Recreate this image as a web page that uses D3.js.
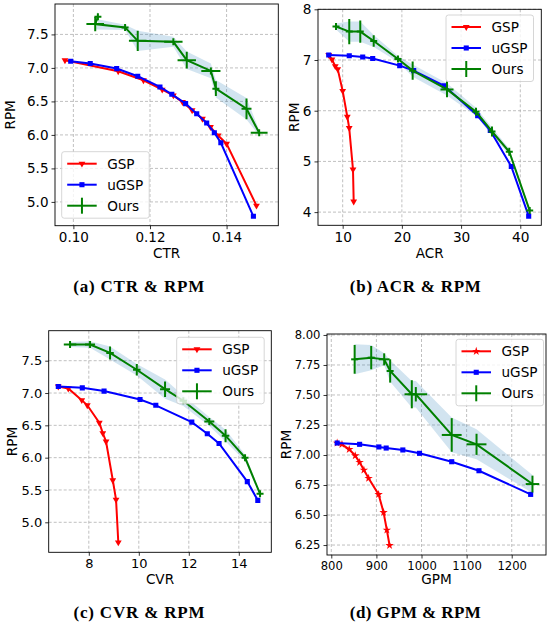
<!DOCTYPE html>
<html>
<head>
<meta charset="utf-8">
<script src="https://cdn.jsdelivr.net/npm/d3@7"></script>
<style>
  body { margin: 0; background: #fff; }
  text { font-family: "DejaVu Sans", sans-serif; }
</style>
</head>
<body>
<script>
// ---- data ----
var seriesNames = ["GSP", "uGSP", "Ours"];
var captions = ["(a) CTR & RPM", "(b) ACR & RPM", "(c) CVR & RPM", "(d) GPM & RPM"];
var xLabels = ["CTR", "ACR", "CVR", "GPM"];

// (a) CTR & RPM
var aGspX = [0.0978, 0.1117, 0.1183, 0.1232, 0.1261, 0.1285, 0.1310, 0.1337, 0.1358, 0.1378, 0.1400, 0.1478];
var aGspY = [7.115, 6.95, 6.816, 6.676, 6.59, 6.49, 6.367, 6.24, 6.117, 5.99, 5.868, 4.945];
var aUgspX = [0.0993, 0.1044, 0.1113, 0.1168, 0.1226, 0.1257, 0.1293, 0.1322, 0.1348, 0.1368, 0.1385, 0.1470];
var aUgspY = [7.10, 7.066, 6.99, 6.876, 6.716, 6.606, 6.467, 6.317, 6.177, 6.033, 5.883, 4.785];
var aOursX = [0.1064, 0.1057, 0.1135, 0.1168, 0.1261, 0.1296, 0.1359, 0.1372, 0.1452, 0.1485];
var aOursY = [7.763, 7.654, 7.605, 7.404, 7.39, 7.115, 6.955, 6.69, 6.39, 6.033];
var aOursXErr = [0.0003, 0.0023, 0.0004, 0.0023, 0.0024, 0.0024, 0.0025, 0.0008, 0.0013, 0.0022];
var aOursYErr = [0.03, 0.105, 0.03, 0.15, 0.025, 0.125, 0.04, 0.11, 0.155, 0.025];
var aOursBand = [0.08, 0.08, 0.04, 0.15, 0.075, 0.13, 0.11, 0.13, 0.16, 0.04];
var aXTicks = [0.10, 0.12, 0.14];
var aYTicks = [5.0, 5.5, 6.0, 6.5, 7.0, 7.5];

// (b) ACR & RPM
var bGspX = [7.64, 8.19, 8.75, 9.16, 10.0, 10.78, 11.1, 11.74, 11.86];
var bGspY = [7.10, 7.01, 6.88, 6.82, 6.39, 5.88, 5.66, 4.84, 4.21];
var bUgspX = [7.64, 11.11, 13.38, 15.07, 19.63, 21.99, 27.17, 32.8, 34.93, 38.48, 41.42];
var bUgspY = [7.10, 7.085, 7.06, 7.03, 6.89, 6.79, 6.49, 5.90, 5.61, 4.90, 3.92];
var bOursX = [8.87, 11.11, 12.97, 15.24, 19.34, 21.82, 27.62, 32.52, 35.22, 38.14, 41.59];
var bOursY = [7.66, 7.56, 7.56, 7.375, 7.02, 6.79, 6.42, 5.98, 5.59, 5.19, 4.03];
var bOursXErr = [0.3, 0.4, 0.4, 0.5, 0.6, 0.5, 1.1, 0.4, 0.5, 0.4, 0.3];
var bOursYErr = [0.03, 0.25, 0.22, 0.115, 0.04, 0.18, 0.155, 0.08, 0.1, 0.08, 0.05];
var bOursBand = [0.06, 0.2, 0.2, 0.12, 0.06, 0.12, 0.12, 0.08, 0.08, 0.06, 0.04];
var bXTicks = [10, 20, 30, 40];
var bYTicks = [4, 5, 6, 7, 8];

// (c) CVR & RPM
var cGspX = [6.78, 7.18, 7.72, 7.94, 8.42, 8.56, 8.69, 8.96, 9.09, 9.18];
var cGspY = [7.10, 7.07, 6.89, 6.81, 6.54, 6.38, 6.25, 5.65, 5.35, 4.69];
var cUgspX = [6.78, 7.74, 8.61, 10.05, 10.68, 12.12, 12.74, 13.21, 14.34, 14.76];
var cUgspY = [7.10, 7.08, 7.03, 6.90, 6.81, 6.55, 6.37, 6.22, 5.63, 5.34];
var cOursX = [7.25, 8.05, 8.85, 9.92, 11.05, 11.78, 12.82, 13.47, 14.25, 14.85];
var cOursY = [7.75, 7.75, 7.62, 7.36, 7.06, 6.88, 6.56, 6.34, 6.0, 5.44];
var cOursXErr = [0.25, 0.2, 0.15, 0.15, 0.2, 0.15, 0.2, 0.15, 0.12, 0.1];
var cOursYErr = [0.02, 0.02, 0.1, 0.09, 0.12, 0.03, 0.05, 0.1, 0.04, 0.05];
var cOursBand = [0.04, 0.05, 0.1, 0.09, 0.15, 0.08, 0.07, 0.09, 0.05, 0.03];
var cXTicks = [8, 10, 12, 14];
var cYTicks = [5.0, 5.5, 6.0, 6.5, 7.0, 7.5];

// (d) GPM & RPM
var dGspX = [813, 823.7, 839.8, 853.1, 862.8, 872.3, 882.7, 904.9, 915.9, 923.2, 929.2];
var dGspY = [7.10, 7.089, 7.047, 6.994, 6.939, 6.875, 6.806, 6.672, 6.522, 6.375, 6.247];
var dUgspX = [813, 862.8, 905.5, 921.7, 958.6, 995.6, 1067, 1127.4, 1242];
var dUgspY = [7.10, 7.089, 7.067, 7.058, 7.042, 7.014, 6.944, 6.869, 6.672];
var dOursX = [851.8, 888.5, 917.3, 930.5, 978.5, 987.4, 1067, 1122, 1246];
var dOursY = [7.797, 7.811, 7.797, 7.70, 7.506, 7.506, 7.167, 7.089, 6.758];
var dOursXErr = [3, 3, 12, 4, 4, 25, 22, 22, 15];
var dOursYErr = [0.12, 0.097, 0.05, 0.097, 0.117, 0.06, 0.14, 0.088, 0.07];
var dOursBand = [0.125, 0.105, 0.05, 0.09, 0.11, 0.11, 0.145, 0.125, 0.075];
var dXTicks = [800, 900, 1000, 1100, 1200];
var dYTicks = [6.25, 6.50, 6.75, 7.00, 7.25, 7.50, 7.75, 8.00];

// ---- layout (pixel boxes of each subplot) ----
var panels = [
  {id: "a", left: 55, top: 4, right: 278.3, bottom: 225.7, xDomain: [0.0952, 0.1535], yDomain: [4.645, 7.954],
   xFmt: ".2f", yFmt: ".1f", tickFS: 13.5, xLabelOff: 32, yLabelOff: 40, legend: [61.7, 151.7],
   capX: 138.7, capY: 291.5, gspSym: "tri",
   gspX: aGspX, gspY: aGspY, ugspX: aUgspX, ugspY: aUgspY, oursX: aOursX, oursY: aOursY,
   xerr: aOursXErr, yerr: aOursYErr, band: aOursBand, xTicks: aXTicks, yTicks: aYTicks},
  {id: "b", left: 318, top: 9.3, right: 541.3, bottom: 225.3, xDomain: [5.83, 43.55], yDomain: [3.74, 8.0],
   xFmt: "d", yFmt: "d", tickFS: 13.7, xLabelOff: 32.4, yLabelOff: 18.7, legend: [446, 15],
   capX: 415.3, capY: 291.5, gspSym: "tri",
   gspX: bGspX, gspY: bGspY, ugspX: bUgspX, ugspY: bUgspY, oursX: bOursX, oursY: bOursY,
   xerr: bOursXErr, yerr: bOursYErr, band: bOursBand, xTicks: bXTicks, yTicks: bYTicks},
  {id: "c", left: 48.7, top: 330.7, right: 271.3, bottom: 552.3, xDomain: [6.396, 15.3], yDomain: [4.536, 7.964],
   xFmt: "d", yFmt: ".1f", tickFS: 13, xLabelOff: 31.7, yLabelOff: 32, legend: [176.7, 337.3],
   capX: 139, capY: 618.3, gspSym: "tri",
   gspX: cGspX, gspY: cGspY, ugspX: cUgspX, ugspY: cUgspY, oursX: cOursX, oursY: cOursY,
   xerr: cOursXErr, yerr: cOursYErr, band: cOursBand, xTicks: cXTicks, yTicks: cYTicks},
  {id: "d", left: 327, top: 334, right: 546, bottom: 555, xDomain: [790.5, 1276], yDomain: [6.167, 8.008],
   xFmt: "d", yFmt: ".2f", tickFS: 11.6, xLabelOff: 29, yLabelOff: 35.7, legend: [456, 339.3],
   capX: 415.3, capY: 618.3, gspSym: "star",
   gspX: dGspX, gspY: dGspY, ugspX: dUgspX, ugspY: dUgspY, oursX: dOursX, oursY: dOursY,
   xerr: dOursXErr, yerr: dOursYErr, band: dOursBand, xTicks: dXTicks, yTicks: dYTicks}
];

var RED = "#ff0000", BLUE = "#0000ff", GREEN = "#008000";
var FS = 13.6;

var svg = d3.select("body").append("svg")
    .attr("width", 547)
    .attr("height", 625);

function gspSymbol(kind) {
  return kind === "star" ? d3.symbol().type(d3.symbolStar).size(22)
                         : d3.symbol().type(d3.symbolTriangle).size(20);
}

function drawPanel(p, i) {
  var x = d3.scaleLinear().domain(p.xDomain).range([p.left, p.right]);
  var y = d3.scaleLinear().domain(p.yDomain).range([p.bottom, p.top]);
  var g = svg.append("g");

  g.append("clipPath").attr("id", "clip" + p.id)
    .append("rect")
      .attr("x", p.left).attr("y", p.top)
      .attr("width", p.right - p.left).attr("height", p.bottom - p.top);

  // dashed grid
  g.selectAll(".vgrid").data(p.xTicks).enter().append("line")
    .attr("x1", d => x(d)).attr("x2", d => x(d))
    .attr("y1", p.top).attr("y2", p.bottom)
    .attr("stroke", "#b0b0b0").attr("stroke-width", 0.8).attr("stroke-dasharray", "3,2");
  g.selectAll(".hgrid").data(p.yTicks).enter().append("line")
    .attr("x1", p.left).attr("x2", p.right)
    .attr("y1", d => y(d)).attr("y2", d => y(d))
    .attr("stroke", "#b0b0b0").attr("stroke-width", 0.8).attr("stroke-dasharray", "3,2");

  var plot = g.append("g").attr("clip-path", "url(#clip" + p.id + ")");

  // shaded band around Ours
  var ours = p.oursX.map((v, k) => ({x: v, y: p.oursY[k], xe: p.xerr[k], ye: p.yerr[k], b: p.band[k]}));
  plot.append("path")
    .datum(ours)
    .attr("d", d3.area().x(d => x(d.x)).y0(d => y(d.y - d.b)).y1(d => y(d.y + d.b)))
    .attr("fill", "#1f77b4").attr("fill-opacity", 0.2);

  var line = d3.line().x(d => x(d[0])).y(d => y(d[1]));

  // GSP
  var gsp = p.gspX.map((v, k) => [v, p.gspY[k]]);
  plot.append("path").datum(gsp).attr("d", line)
    .attr("fill", "none").attr("stroke", RED).attr("stroke-width", 2);
  plot.selectAll(".gspm").data(gsp).enter().append("path")
    .attr("d", gspSymbol(p.gspSym))
    .attr("transform", d => "translate(" + x(d[0]) + "," + y(d[1]) + ")" + (p.gspSym === "tri" ? " rotate(180)" : ""))
    .attr("fill", RED);

  // uGSP
  var ugsp = p.ugspX.map((v, k) => [v, p.ugspY[k]]);
  plot.append("path").datum(ugsp).attr("d", line)
    .attr("fill", "none").attr("stroke", BLUE).attr("stroke-width", 2);
  plot.selectAll(".ugspm").data(ugsp).enter().append("path")
    .attr("d", d3.symbol().type(d3.symbolSquare).size(26))
    .attr("transform", d => "translate(" + x(d[0]) + "," + y(d[1]) + ")")
    .attr("fill", BLUE);

  // Ours with error bars
  plot.append("path").datum(ours.map(d => [d.x, d.y])).attr("d", line)
    .attr("fill", "none").attr("stroke", GREEN).attr("stroke-width", 2);
  var eb = plot.selectAll(".eb").data(ours).enter().append("g");
  eb.append("line")
    .attr("x1", d => Math.min(x(d.x - d.xe), x(d.x) - 3.5))
    .attr("x2", d => Math.max(x(d.x + d.xe), x(d.x) + 3.5))
    .attr("y1", d => y(d.y)).attr("y2", d => y(d.y))
    .attr("stroke", GREEN).attr("stroke-width", 2);
  eb.append("line")
    .attr("x1", d => x(d.x)).attr("x2", d => x(d.x))
    .attr("y1", d => Math.max(y(d.y - d.ye), y(d.y) + 3.5))
    .attr("y2", d => Math.min(y(d.y + d.ye), y(d.y) - 3.5))
    .attr("stroke", GREEN).attr("stroke-width", 2);

  // axes
  var ax = g.append("g")
    .attr("transform", "translate(0," + p.bottom + ")")
    .call(d3.axisBottom(x).tickValues(p.xTicks).tickFormat(d3.format(p.xFmt)).tickSize(3.5).tickPadding(3).tickSizeOuter(0));
  var ay = g.append("g")
    .attr("transform", "translate(" + p.left + ",0)")
    .call(d3.axisLeft(y).tickValues(p.yTicks).tickFormat(d3.format(p.yFmt)).tickSize(3.5).tickPadding(3).tickSizeOuter(0));
  [ax, ay].forEach(function (a) {
    a.select(".domain").remove();
    a.selectAll("line").attr("stroke", "#000").attr("stroke-width", 0.8);
    a.selectAll("text").attr("font-size", p.tickFS).attr("font-family", "DejaVu Sans").attr("fill", "#000");
  });

  // frame
  g.append("rect")
    .attr("x", p.left).attr("y", p.top)
    .attr("width", p.right - p.left).attr("height", p.bottom - p.top)
    .attr("fill", "none").attr("stroke", "#000").attr("stroke-width", 0.9);

  // axis titles
  g.append("text")
    .attr("x", (p.left + p.right) / 2).attr("y", p.bottom + p.xLabelOff)
    .attr("text-anchor", "middle").attr("font-size", FS)
    .text(xLabels[i]);
  g.append("text")
    .attr("transform", "translate(" + (p.left - p.yLabelOff) + "," + (p.top + p.bottom) / 2 + ") rotate(-90)")
    .attr("text-anchor", "middle").attr("font-size", FS)
    .text("RPM");

  // legend
  var lx = p.legend[0], ly = p.legend[1];
  var lg = g.append("g");
  lg.append("rect")
    .attr("x", lx).attr("y", ly).attr("width", 87.5).attr("height", 66.5).attr("rx", 2.5)
    .attr("fill", "#fff").attr("fill-opacity", 0.8)
    .attr("stroke", "#cccccc").attr("stroke-width", 0.8);
  var colors = [RED, BLUE, GREEN];
  seriesNames.forEach(function (name, k) {
    var ey = ly + 12 + k * 21;
    var cx = lx + 20.25;
    lg.append("line")
      .attr("x1", lx + 5.5).attr("x2", lx + 35).attr("y1", ey).attr("y2", ey)
      .attr("stroke", colors[k]).attr("stroke-width", 2);
    if (k === 0) {
      lg.append("path").attr("d", gspSymbol(p.gspSym))
        .attr("transform", "translate(" + cx + "," + ey + ")" + (p.gspSym === "tri" ? " rotate(180)" : ""))
        .attr("fill", RED);
    } else if (k === 1) {
      lg.append("path").attr("d", d3.symbol().type(d3.symbolSquare).size(26))
        .attr("transform", "translate(" + cx + "," + ey + ")")
        .attr("fill", BLUE);
    } else {
      lg.append("line")
        .attr("x1", cx).attr("x2", cx).attr("y1", ey - 8).attr("y2", ey + 8)
        .attr("stroke", GREEN).attr("stroke-width", 2);
    }
    lg.append("text")
      .attr("x", lx + 45.5).attr("y", ey + 5)
      .attr("font-size", FS)
      .text(name);
  });

  // caption
  svg.append("text")
    .attr("x", p.capX).attr("y", p.capY)
    .attr("text-anchor", "middle")
    .attr("font-weight", "bold")
    .attr("font-size", 17)
    .attr("textLength", 131).attr("lengthAdjust", "spacing")
    .style("font-family", "'Liberation Serif', serif")
    .text(captions[i]);
}

panels.forEach(drawPanel);
</script>
</body>
</html>
